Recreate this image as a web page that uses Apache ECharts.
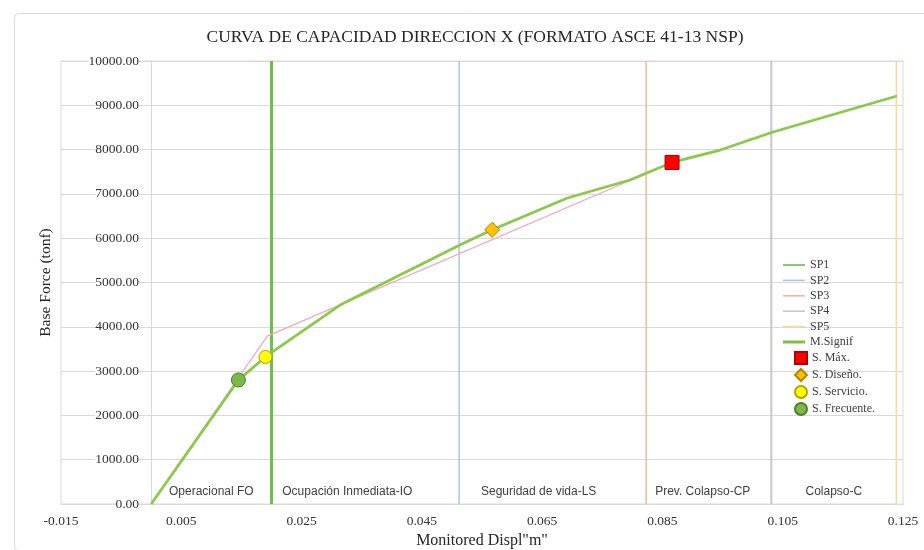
<!DOCTYPE html>
<html>
<head>
<meta charset="utf-8">
<title>Curva de capacidad</title>
<script src="https://cdn.jsdelivr.net/npm/echarts@6.0.0/dist/echarts.min.js"></script>
<style>
    html,body{margin:0;padding:0;background:#fff;}
    #main{width:924px;height:550px;}
</style>
</head>
<body>
<div id="main"></div>
<script>
    // curva de capacidad (M.Signif)
    var dispCurve  = [0, 0.0145, 0.0190, 0.0201, 0.0314, 0.0514, 0.0567, 0.0692, 0.0796, 0.0866, 0.0946, 0.1034, 0.1240];
    var forceCurve = [0, 2800, 3320, 3430, 4490, 5850, 6190, 6907, 7314, 7710, 7990, 8397, 9210];
    // bilineal (rosa)
    var dispBilin  = [0, 0.0193, 0.0866];
    var forceBilin = [0, 3790, 7710];
    // limites de desempeno
    var spNames = ['SP1', 'SP2', 'SP3', 'SP4', 'SP5'];
    var spDisp  = [0.0200, 0.0512, 0.0823, 0.1031, 0.1239];
    var zoneNames = ['Operacional FO', 'Ocupación Inmediata-IO', 'Seguridad de vida-LS', 'Prev. Colapso-CP', 'Colapso-C'];
    // puntos de desempeno
    var ptNames = ['S. Máx.', 'S. Diseño.', 'S. Servicio.', 'S. Frecuente.'];
    var ptDisp  = [0.0866, 0.0567, 0.0190, 0.0145];
    var ptForce = [7710, 6190, 3320, 2800];
    // ticks
    var xTicks = [-0.015, 0.005, 0.025, 0.045, 0.065, 0.085, 0.105, 0.125];
    var yMax = 10000, yStep = 1000;

    var spColors = ['#6DBE4B', '#A9C9E6', '#F2B89A', '#C8C8C8', '#FAD79A'];
    var spWidths = [3, 1.5, 1.5, 2, 1.5];
    var ptStyles = [
        {symbol: 'rect', size: 14, color: '#FF0000', border: '#B00000'},
        {symbol: 'diamond', size: 15, color: '#FFC000', border: '#B38600'},
        {symbol: 'circle', size: 13, color: '#FFFF00', border: '#B9A000'},
        {symbol: 'circle', size: 14, color: '#7DB84A', border: '#4E7F2E'}
    ];

    function pairs(xs, ys) {
        return xs.map(function (x, i) { return [x, ys[i]]; });
    }

    var series = [];
    spNames.forEach(function (n, i) {
        series.push({
            name: n, type: 'line', symbol: 'none', silent: true,
            data: [[spDisp[i], 0], [spDisp[i], yMax]],
            lineStyle: {color: spColors[i], width: spWidths[i]},
            itemStyle: {color: spColors[i]}
        });
    });
    // zonas
    var zoneBounds = [0].concat(spDisp);
    var zoneOffsets = [0, -18, -14, -6, 0];
    series.push({
        name: 'zonas', type: 'line', data: [], silent: true,
        markArea: {
            silent: true,
            itemStyle: {color: 'rgba(0,0,0,0)'},
            label: {
                position: 'insideBottom', distance: 4,
                fontFamily: 'Liberation Sans', fontSize: 12, color: '#404040',
                backgroundColor: '#fff', padding: [2, 3]
            },
            data: zoneNames.map(function (z, i) {
                return [{xAxis: zoneBounds[i], name: z, label: {offset: [zoneOffsets[i], 0]}}, {xAxis: zoneBounds[i + 1]}];
            })
        }
    });
    series.push({
        name: 'Bilineal', type: 'line', symbol: 'none', silent: true,
        data: pairs(dispBilin, forceBilin),
        lineStyle: {color: '#F2A7B8', width: 1.2}
    });
    series.push({
        name: 'M.Signif', type: 'line', symbol: 'none', silent: true,
        data: pairs(dispCurve, forceCurve),
        lineStyle: {color: '#8CC84B', width: 2.8},
        itemStyle: {color: '#7CC04A'}
    });
    ptNames.forEach(function (n, i) {
        var s = ptStyles[i];
        series.push({
            name: n, type: 'scatter', symbol: s.symbol, symbolSize: s.size, z: 5,
            data: [[ptDisp[i], ptForce[i]]],
            itemStyle: {color: s.color, borderColor: s.border, borderWidth: 1, opacity: 1}
        });
    });

    var serif = 'Liberation Serif';
    var legendText = {fontFamily: serif, fontSize: 12, color: '#404040', lineHeight: 12};
    var chart = echarts.init(document.getElementById('main'));
    chart.setOption({
        backgroundColor: '#fff',
        animation: false,
        title: {
            text: 'CURVA DE CAPACIDAD DIRECCION X (FORMATO ASCE 41-13 NSP)',
            left: 470, top: 23, textAlign: 'center',
            textStyle: {fontFamily: serif, fontWeight: 'normal', fontSize: 17.5, color: '#262626'}
        },
        graphic: [{
            type: 'rect', left: 12, top: 11, silent: true,
            shape: {width: 930, height: 537, r: 4},
            style: {fill: 'none', stroke: '#D9D9D9', lineWidth: 1}
        }],
        legend: [{
            orient: 'vertical', left: 778, top: 254, itemGap: 3.4,
            itemWidth: 22, itemHeight: 1.6,
            data: spNames.map(function (n) { return {name: n, icon: 'rect'}; }),
            textStyle: legendText
        }, {
            orient: 'vertical', left: 778, top: 331,
            itemWidth: 22, itemHeight: 3,
            data: [{name: 'M.Signif', icon: 'rect'}],
            textStyle: legendText
        }, {
            orient: 'vertical', left: 789, top: 346, itemGap: 3,
            itemWidth: 12, itemHeight: 12,
            data: ptNames,
            textStyle: legendText
        }],
        grid: {
            left: 61, right: 21, top: 61, bottom: 46,
            show: true, borderColor: '#D9D9D9', borderWidth: 1,
            containLabel: false, outerBoundsMode: 'none'
        },
        xAxis: {
            type: 'value', min: xTicks[0], max: xTicks[xTicks.length - 1], interval: 0.02,
            name: 'Monitored Displ"m"', nameLocation: 'middle', nameGap: 28,
            nameTextStyle: {fontFamily: serif, fontSize: 16, color: '#262626'},
            axisLine: {show: true, lineStyle: {color: '#D9D9D9'}},
            axisTick: {show: false},
            splitLine: {show: false},
            axisLabel: {
                margin: 10, fontFamily: serif, fontSize: 13.5, color: '#333',
                formatter: function (v) { return v.toFixed(3); }
            }
        },
        yAxis: {
            type: 'value', min: 0, max: yMax, interval: yStep,
            offset: -90,
            name: 'Base Force (tonf)', nameLocation: 'middle', nameGap: 97, nameRotate: 90,
            nameTextStyle: {fontFamily: serif, fontSize: 15.5, color: '#262626'},
            axisLine: {show: true, onZero: false, lineStyle: {color: '#D9D9D9'}},
            axisTick: {show: false},
            splitLine: {show: true, lineStyle: {color: '#D9D9D9'}},
            axisLabel: {
                margin: 12, fontFamily: serif, fontSize: 13.5, color: '#333',
                backgroundColor: '#fff',
                formatter: function (v) { return v.toFixed(2); }
            }
        },
        series: series
    });
</script>
</body>
</html>
